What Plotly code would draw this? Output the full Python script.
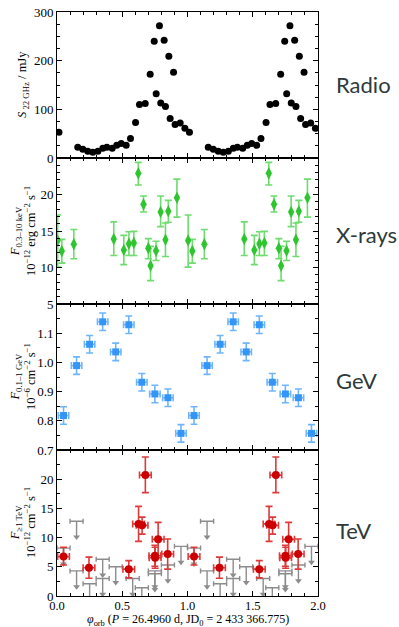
import numpy as np
import plotly.graph_objects as go

# ---------------- data (one orbital cycle; plotted twice) ----------------
radio_phase = [0.015, 0.159, 0.198, 0.236, 0.274, 0.313, 0.351, 0.382, 0.423, 0.458,
               0.492, 0.530, 0.563, 0.602, 0.632, 0.676, 0.714, 0.745, 0.760, 0.785,
               0.795, 0.821, 0.831, 0.857, 0.867, 0.893, 0.905, 0.944, 0.980]
radio_flux = [53, 22, 18, 14, 12, 14, 20, 22, 20, 26,
              30, 26, 40, 73, 110, 112, 172, 240, 132, 272,
              113, 242, 106, 209, 81, 176, 69, 72, 61]

xray_phase = [0.005, 0.037, 0.129, 0.435, 0.512, 0.551, 0.589, 0.623, 0.663, 0.700,
              0.717, 0.759, 0.794, 0.831, 0.853, 0.919]
xray_flux = [13.7, 12.25, 13.2, 13.9, 12.4, 13.25, 13.35, 22.9, 18.65, 12.65,
             10.25, 12.3, 17.6, 13.8, 17.7, 19.55]
xray_err_hi = [3.5, 1.6, 2.0, 2.35, 2.0, 1.65, 1.6, 1.5, 1.15, 1.3,
               2.65, 1.3, 2.2, 2.3, 1.5, 2.55]
xray_err_lo = [3.65, 1.65, 2.0, 2.25, 2.0, 1.6, 1.7, 1.6, 1.05, 1.45,
               2.05, 1.35, 2.0, 2.3, 1.5, 2.65]

gev_phase = [0.05, 0.15, 0.25, 0.35, 0.45, 0.55, 0.65, 0.75, 0.85, 0.95]
gev_flux = [0.818, 0.989, 1.062, 1.139, 1.036, 1.129, 0.932, 0.892, 0.879, 0.757]
gev_err = [0.03, 0.03, 0.03, 0.03, 0.03, 0.03, 0.03, 0.03, 0.03, 0.03]
gev_phase_err = 0.04

tev_phase = [0.05, 0.245, 0.55, 0.625, 0.652, 0.677, 0.75, 0.752, 0.775, 0.848]
tev_flux = [6.75, 4.85, 4.6, 12.35, 12.1, 20.7, 6.9, 6.55, 9.7, 7.2]
tev_err_hi = [1.6, 1.8, 1.45, 3.0, 1.4, 3.1, 1.8, 1.8, 2.9, 2.55]
tev_err_lo = [1.45, 1.8, 1.5, 3.0, 1.5, 3.0, 1.8, 1.8, 3.1, 2.6]
tev_phase_err = 0.045

tev_ul_phase = [0.05, 0.15, 0.15, 0.25, 0.35, 0.35, 0.45, 0.58, 0.65, 0.75, 0.75, 0.85, 0.95]
tev_ul_flux = [8.2, 12.8, 4.3, 2.1, 6.3, 3.0, 5.0, 3.0, 1.4, 4.3, 3.8, 5.3, 8.5]
tev_ul_phase_err = 0.05

panel_labels = ["Radio", "X-rays", "GeV", "TeV"]
x_ticks = [0.0, 0.5, 1.0, 1.5, 2.0]
x_ticktext = ["0.0", "0.5", "1.0", "1.5", "2.0"]

# ---------------- helpers ----------------
def two_cycles(phase, *cols):
    ph = np.concatenate([np.asarray(phase, float), np.asarray(phase, float) + 1.0])
    keep = (ph >= 0) & (ph <= 2.0)
    out = [ph[keep]]
    for c in cols:
        c = np.asarray(c, float)
        out.append(np.concatenate([c, c])[keep])
    return out

W, H = 399, 627
ML, MR, MT, MB = 57, 81, 12, 31
PW, PH = W - ML - MR, H - MT - MB
NP = 4

def ydom(i):
    top = 1 - i / NP
    return [top - 1 / NP, top]

def px_to_paper_y(ypx):
    return 1 - (ypx - MT) / PH

def px_to_paper_x(xpx):
    return (xpx - ML) / PW

fig = go.Figure()

# Radio
rx, ry = two_cycles(radio_phase, radio_flux)
fig.add_trace(go.Scatter(x=rx, y=ry, mode="markers", xaxis="x", yaxis="y",
                         marker=dict(color="black", size=7, symbol="circle"),
                         showlegend=False))

# X-rays
xx, xy, xhi, xlo = two_cycles(xray_phase, xray_flux, xray_err_hi, xray_err_lo)
fig.add_trace(go.Scatter(x=xx, y=xy, mode="markers", xaxis="x2", yaxis="y2",
                         marker=dict(color="#2ec62e", size=9, symbol="diamond-tall"),
                         error_y=dict(type="data", symmetric=False, array=xhi, arrayminus=xlo,
                                      color="#6edc6e", thickness=1.6, width=3.5),
                         showlegend=False))

# GeV
gx, gy, ge = two_cycles(gev_phase, gev_flux, gev_err)
fig.add_trace(go.Scatter(x=gx, y=gy, mode="markers", xaxis="x3", yaxis="y3",
                         marker=dict(color="#3396f7", size=7, symbol="square"),
                         error_y=dict(type="data", array=ge, color="#6fb5fb",
                                      thickness=1.6, width=3.5),
                         error_x=dict(type="constant", value=gev_phase_err, color="#6fb5fb",
                                      thickness=1.6, width=3.5),
                         showlegend=False))

# TeV upper limits
ARROW = 2.7  # arrow length in flux units (style)
ux, uy = two_cycles(tev_ul_phase, tev_ul_flux)
grey = "#8c8c8c"
fig.add_trace(go.Scatter(x=ux, y=uy, mode="markers", xaxis="x4", yaxis="y4",
                         marker=dict(color=grey, size=1, opacity=0),
                         error_x=dict(type="constant", value=tev_ul_phase_err, color=grey,
                                      thickness=1.4, width=2.5),
                         showlegend=False, hoverinfo="skip"))
lx, ly = [], []
for a, b in zip(ux, uy):
    lx += [a, a, None]
    ly += [b, b - ARROW, None]
fig.add_trace(go.Scatter(x=lx, y=ly, mode="lines", xaxis="x4", yaxis="y4",
                         line=dict(color=grey, width=1.4), showlegend=False,
                         hoverinfo="skip"))
fig.add_trace(go.Scatter(x=ux, y=uy - ARROW, mode="markers", xaxis="x4", yaxis="y4",
                         marker=dict(color=grey, size=6, symbol="triangle-down"),
                         showlegend=False, hoverinfo="skip"))

# TeV detections
tx, ty, thi, tlo = two_cycles(tev_phase, tev_flux, tev_err_hi, tev_err_lo)
fig.add_trace(go.Scatter(x=tx, y=ty, mode="markers", xaxis="x4", yaxis="y4",
                         marker=dict(color="#cc0000", size=8, symbol="circle"),
                         error_y=dict(type="data", symmetric=False, array=thi, arrayminus=tlo,
                                      color="#dd3b3b", thickness=1.6, width=3.5),
                         error_x=dict(type="constant", value=tev_phase_err, color="#dd3b3b",
                                      thickness=1.6, width=3.5),
                         showlegend=False))

tickfont = dict(family="Liberation Serif, Times New Roman, serif", size=13, color="black")
xtickfont = dict(family="Liberation Serif, Times New Roman, serif", size=12.5, color="black")

common_x = dict(range=[0, 2], showline=True, linecolor="black", linewidth=1, mirror="allticks",
                ticks="inside", ticklen=5, tickcolor="black", tickwidth=1,
                tickvals=x_ticks, ticktext=x_ticktext, automargin=False,
                ticklabelstandoff=-2,
                minor=dict(dtick=0.1, tick0=0, ticks="inside", ticklen=3, tickcolor="black"),
                showgrid=False, zeroline=False, tickfont=xtickfont)

common_y = dict(showline=True, linecolor="black", linewidth=1, mirror="allticks",
                ticks="inside", ticklen=5, tickcolor="black", tickwidth=1, automargin=False,
                showgrid=False, zeroline=False, tickfont=tickfont)

y_specs = [
    dict(range=[0, 300], tickvals=[0, 100, 200, 300], minor_dtick=25),
    dict(range=[5, 25], tickvals=[5, 10, 15, 20], minor_dtick=1),
    dict(range=[0.7, 1.2], tickvals=[0.7, 0.8, 0.9, 1.0, 1.1], minor_dtick=0.05,
         ticktext=["0.7", "0.8", "0.9", "1.0", "1.1"]),
    dict(range=[0, 25], tickvals=[0, 5, 10, 15, 20], minor_dtick=2.5),
]

layout = dict(width=W, height=H, margin=dict(l=ML, r=MR, t=MT, b=MB, pad=0, autoexpand=False),
              paper_bgcolor="white", plot_bgcolor="white", showlegend=False)

for i, spec in enumerate(y_specs):
    n = "" if i == 0 else str(i + 1)
    xa = dict(common_x)
    xa["anchor"] = "y" + n
    xa["showticklabels"] = (i == NP - 1)
    if i > 0:
        xa["matches"] = "x"
    ya = dict(common_y)
    ya["domain"] = ydom(i)
    ya["range"] = spec["range"]
    ya["tickvals"] = spec["tickvals"]
    if "ticktext" in spec:
        ya["ticktext"] = spec["ticktext"]
    ya["minor"] = dict(dtick=spec["minor_dtick"], tick0=spec["range"][0], ticks="inside",
                       ticklen=3, tickcolor="black")
    ya["anchor"] = "x" + n
    layout["xaxis" + n] = xa
    layout["yaxis" + n] = ya

fig.update_layout(**layout)

# x-axis title (annotation so it sits below the tick labels)
fig.add_annotation(
    text="<i>φ</i><sub>orb</sub> (<i>P</i> = 26.4960 d, JD<sub>0</sub> = 2 433 366.775)",
    xref="paper", yref="paper", x=px_to_paper_x(188), y=px_to_paper_y(620),
    xanchor="center", yanchor="middle", showarrow=False,
    font=dict(family="Liberation Serif, serif", size=12, color="black"))

# y titles as annotations
y_titles = [
    "<i>S</i><sub> 22 GHz</sub> / mJy",
    "<i>F</i><sub>0.3–10 keV</sub><br>10<sup>−12</sup> erg cm<sup>−2</sup> s<sup>−1</sup>",
    "<i>F</i><sub>0.1–1 GeV</sub><br>10<sup>−6</sup> cm<sup>−2</sup> s<sup>−1</sup>",
    "<i>F</i><sub>≥1 TeV</sub><br>10<sup>−12</sup> cm<sup>−2</sup> s<sup>−1</sup>",
]
for i, t in enumerate(y_titles):
    d = ydom(i)
    fig.add_annotation(text=t, xref="paper", yref="paper", x=px_to_paper_x(23),
                       y=(d[0] + d[1]) / 2, xanchor="center", yanchor="middle",
                       textangle=-90, showarrow=False,
                       font=dict(family="Liberation Serif, serif", size=12.5, color="black"))

label_px_y = [84, 234, 380, 530]
for lab, yp in zip(panel_labels, label_px_y):
    fig.add_annotation(text=lab, xref="paper", yref="paper", x=px_to_paper_x(334),
                       y=px_to_paper_y(yp), xanchor="left", yanchor="middle",
                       showarrow=False,
                       font=dict(family="Lato, sans-serif", size=22, color="#2e3a3a"))

fig.write_html("out.html", config={"displayModeBar": False},
               post_script="document.body.style.margin='0px';")
